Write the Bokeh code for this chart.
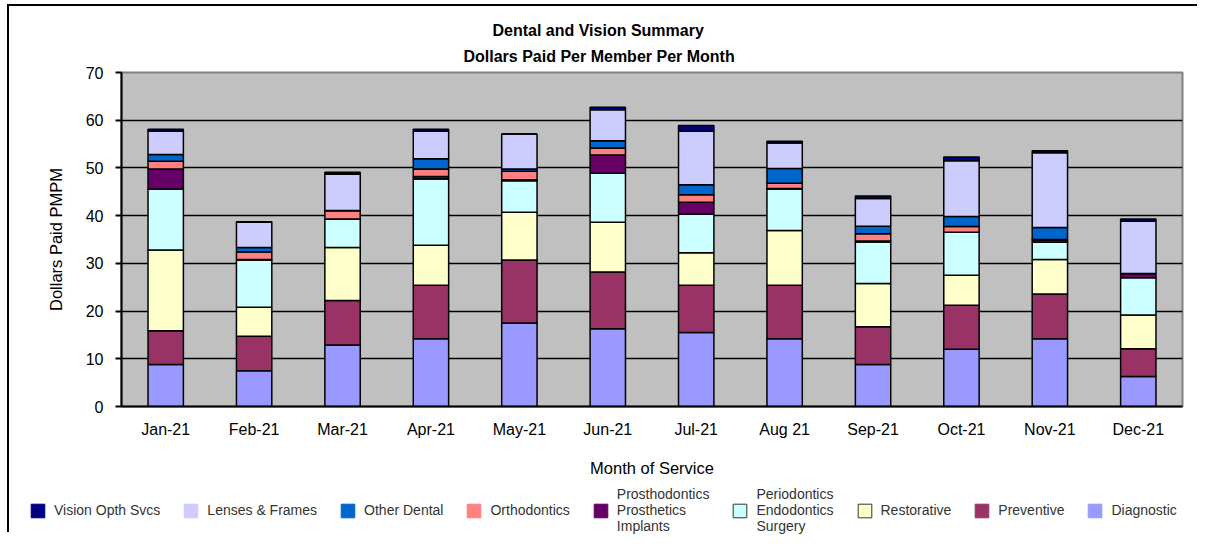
from bokeh.plotting import figure
from bokeh.models import Range1d, FixedTicker, Legend, LegendItem, ColumnDataSource, Title
from bokeh.layouts import column
from bokeh.embed import file_html
from bokeh.resources import INLINE

months = ["Jan-21", "Feb-21", "Mar-21", "Apr-21", "May-21", "Jun-21",
          "Jul-21", "Aug 21", "Sep-21", "Oct-21", "Nov-21", "Dec-21"]

diagnostic = [8.8, 7.5, 12.9, 14.2, 17.5, 16.3, 15.5, 14.2, 8.8, 12.0, 14.2, 6.3]
preventive = [7.1, 7.2, 9.3, 11.2, 13.2, 11.9, 9.9, 11.2, 7.9, 9.2, 9.4, 5.8]
restorative = [16.9, 6.1, 11.1, 8.4, 10.0, 10.4, 6.8, 11.5, 9.1, 6.3, 7.2, 7.1]
periodontics = [12.8, 9.9, 6.0, 13.9, 6.6, 10.3, 8.1, 8.7, 8.7, 9.0, 3.6, 7.8]
prosthodontics = [4.2, 0.1, 0.0, 0.5, 0.2, 3.8, 2.5, 0.1, 0.2, 0.0, 0.5, 0.9]
orthodontics = [1.6, 1.6, 1.7, 1.6, 1.8, 1.5, 1.6, 1.1, 1.5, 1.2, 0.1, 0.0]
other_dental = [1.4, 0.9, 0.1, 2.1, 0.5, 1.5, 2.1, 3.1, 1.6, 2.1, 2.5, 0.0]
lenses_frames = [4.9, 5.3, 7.6, 5.8, 7.3, 6.5, 11.2, 5.3, 5.8, 11.7, 15.7, 10.9]
vision_opth = [0.4, 0.1, 0.4, 0.4, 0.0, 0.5, 1.2, 0.4, 0.5, 0.8, 0.4, 0.5]

keys = ["diagnostic", "preventive", "restorative", "periodontics", "prosthodontics",
        "orthodontics", "other_dental", "lenses_frames", "vision_opth"]
labels = ["Diagnostic", "Preventive", "Restorative", "Periodontics\nEndodontics\nSurgery",
          "Prosthodontics\nProsthetics\nImplants", "Orthodontics", "Other Dental",
          "Lenses & Frames", "Vision Opth Svcs"]
colors = ["#9999FF", "#993366", "#FFFFCC", "#CCFFFF", "#660066",
          "#FF8080", "#0066CC", "#CCCCFF", "#000080"]
legend_borders = [None, None, "#333333", "#333333", None, None, None, None, None]

source = ColumnDataSource(dict(
    month=months, diagnostic=diagnostic, preventive=preventive, restorative=restorative,
    periodontics=periodontics, prosthodontics=prosthodontics, orthodontics=orthodontics,
    other_dental=other_dental, lenses_frames=lenses_frames, vision_opth=vision_opth))

FONT = "Liberation Sans"
TOTAL_W = 1190

p = figure(x_range=months, y_range=Range1d(0, 70),
           frame_width=1061, frame_height=334,
           output_backend="svg", toolbar_location=None, title=None,
           min_border_left=112, min_border_right=TOTAL_W - 112 - 1061,
           min_border_top=66, min_border_bottom=76)
p.frame_align = False

for txt, off, so in [("Dollars Paid Per Member Per Month", 342, 15),
                     ("Dental and Vision Summary", 371, 0)]:
    t = Title(text=txt, align="left", offset=off, text_font=FONT, text_font_size="16px",
              text_font_style="bold", text_color="black", standoff=so)
    p.add_layout(t, "above")

p.background_fill_color = "#C0C0C0"
p.border_fill_color = "white"
p.outline_line_color = "#808080"
p.outline_line_width = 2

p.vbar_stack(keys, x="month", width=0.4, fill_color=colors, line_color="black",
             line_width=1.5, source=source)

# axes
p.yaxis.ticker = FixedTicker(ticks=[0, 10, 20, 30, 40, 50, 60, 70])
p.yaxis.minor_tick_line_color = None
p.yaxis.major_tick_in = 0
p.yaxis.major_tick_out = 6
p.yaxis.major_tick_line_width = 2
p.yaxis.axis_line_width = 2
p.yaxis.axis_line_color = "black"
p.yaxis.major_label_standoff = 12
p.yaxis.axis_label = "Dollars Paid PMPM"
p.yaxis.axis_label_standoff = 18

p.xaxis.major_tick_line_color = None
p.xaxis.major_tick_in = 0
p.xaxis.major_tick_out = 0
p.xaxis.axis_line_width = 2
p.xaxis.axis_line_color = "black"
p.xaxis.major_label_standoff = 14
p.xaxis.axis_label = "Month of Service"
p.xaxis.axis_label_standoff = 18

for ax in (p.xaxis, p.yaxis):
    ax.major_label_text_font = FONT
    ax.major_label_text_font_size = "16px"
    ax.major_label_text_color = "black"
    ax.axis_label_text_font = FONT
    ax.axis_label_text_font_size = "16.5px"
    ax.axis_label_text_font_style = "normal"
    ax.axis_label_text_color = "black"

p.xgrid.grid_line_color = None
p.ygrid.ticker = FixedTicker(ticks=[10, 20, 30, 40, 50, 60])
p.ygrid.grid_line_color = "black"
p.ygrid.grid_line_width = 1.5

# legend in its own strip below the chart (reverse order, Vision first)
lf = figure(width=TOTAL_W, height=52, x_range=Range1d(0, 1), y_range=Range1d(0, 1),
            x_axis_type=None, y_axis_type=None,
            output_backend="svg", toolbar_location=None, min_border=0)
lf.frame_align = False
lf.grid.grid_line_color = None
lf.outline_line_color = None
lf.background_fill_color = "white"
lf.border_fill_color = "white"

items = []
for i in reversed(range(len(keys))):
    lc = legend_borders[i] if legend_borders[i] else colors[i]
    # swatch-only renderer: a zero-size bar placed outside the strip's visible range
    r = lf.vbar(x=[-5], top=[-5], bottom=[-5], width=0, fill_color=colors[i],
                line_color=lc, line_width=1)
    items.append(LegendItem(label=labels[i], renderers=[r]))

legend = Legend(items=items, orientation="horizontal", location=(20, 0),
                glyph_width=17, glyph_height=17, label_standoff=8, spacing=22,
                padding=0, margin=0, border_line_color=None, background_fill_alpha=0,
                label_text_font=FONT, label_text_font_size="14px",
                label_text_color="#333333", label_text_line_height=1.2)
lf.add_layout(legend, "center")

layout = column(p, lf, spacing=0,
                styles={"margin-left": "9px", "margin-top": "6px",
                        "box-shadow": "-2px -2px 0 0 #000000"})

open("out.html", "w").write(file_html(layout, INLINE))
